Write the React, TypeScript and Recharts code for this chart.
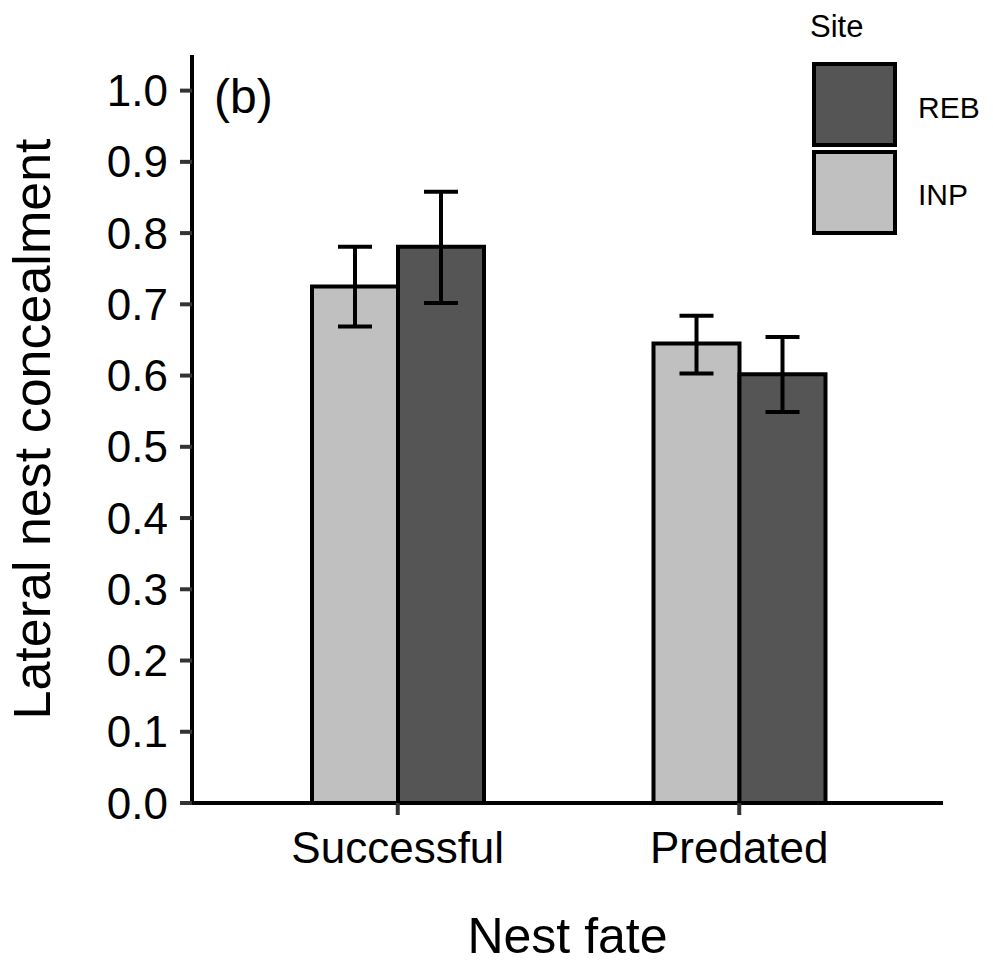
import React from "react";
import {
    BarChart,
    Bar,
    XAxis,
    YAxis,
    ErrorBar,
    Legend,
} from "recharts";

const categories = ["Successful", "Predated"];

const inpMean = [0.725, 0.645];
const inpLow = [0.669, 0.603];
const inpHigh = [0.781, 0.684];

const rebMean = [0.781, 0.602];
const rebLow = [0.702, 0.549];
const rebHigh = [0.858, 0.654];

const yTicks = [0, 0.1, 0.2, 0.3, 0.4, 0.5, 0.6, 0.7, 0.8, 0.9, 1.0];

const FONT = "'Liberation Sans', Arial, Helvetica, sans-serif";
const INP_FILL = "#c0c0c0";
const REB_FILL = "#555555";

const data = categories.map((fate, i) => ({
    fate,
    INP: inpMean[i],
    REB: rebMean[i],
    inpErr: [inpMean[i] - inpLow[i], inpHigh[i] - inpMean[i]],
    rebErr: [rebMean[i] - rebLow[i], rebHigh[i] - rebMean[i]],
}));

// legend keys, top to bottom like the original
const legendItems = [
    { label: "REB", fill: REB_FILL },
    { label: "INP", fill: INP_FILL },
];

function SiteLegend() {
    return (
        <svg width={213} height={250} style={{ display: "block" }}>
            <text x={30} y={37} fontSize={31} fontFamily={FONT} fill="#000">
                Site
            </text>
            {legendItems.map((item, i) => (
                <g key={item.label}>
                    <rect
                        x={34}
                        y={64 + i * 88}
                        width={81}
                        height={81}
                        fill={item.fill}
                        stroke="#000"
                        strokeWidth={4}
                    />
                    <text
                        x={138}
                        y={118 + i * 87}
                        fontSize={30}
                        fontFamily={FONT}
                        fill="#000"
                    >
                        {item.label}
                    </text>
                </g>
            ))}
        </svg>
    );
}

export default function App() {
    return (
        <div
            style={{
                position: "relative",
                width: 993,
                height: 962,
                margin: -8,
                background: "#fff",
                fontFamily: FONT,
            }}
        >
            <BarChart
                width={993}
                height={962}
                data={data}
                margin={{ top: 55, right: 50, bottom: 99, left: 0 }}
                barGap={0}
                barSize={86}
            >
                <XAxis
                    dataKey="fate"
                    height={60}
                    padding={{ left: 35, right: 33 }}
                    axisLine={{ stroke: "#000", strokeWidth: 4 }}
                    tickLine={{ stroke: "#333", strokeWidth: 4 }}
                    tickSize={12}
                    tickMargin={17}
                    tick={{ fill: "#000", fontSize: 44, fontFamily: FONT }}
                    label={{
                        value: "Nest fate",
                        position: "bottom",
                        offset: 54,
                        fill: "#000",
                        fontSize: 50,
                        fontFamily: FONT,
                    }}
                />
                <YAxis
                    width={192}
                    domain={[0, 1.05]}
                    ticks={yTicks}
                    interval={0}
                    tickFormatter={(v: number) => v.toFixed(1)}
                    axisLine={{ stroke: "#000", strokeWidth: 4 }}
                    tickLine={{ stroke: "#333", strokeWidth: 4 }}
                    tickSize={12}
                    tickMargin={12}
                    tick={{ fill: "#000", fontSize: 44, fontFamily: FONT }}
                    label={{
                        value: "Lateral nest concealment",
                        angle: -90,
                        position: "insideLeft",
                        offset: 32,
                        fill: "#000",
                        fontSize: 52,
                        fontFamily: FONT,
                        style: { textAnchor: "middle" },
                    }}
                />
                <Legend
                    layout="vertical"
                    align="center"
                    verticalAlign="middle"
                    wrapperStyle={{ top: 0, left: 780, width: 213, height: 250 }}
                    content={() => <SiteLegend />}
                />
                <Bar
                    dataKey="INP"
                    fill={INP_FILL}
                    stroke="#000"
                    strokeWidth={4}
                    isAnimationActive={false}
                >
                    <ErrorBar
                        dataKey="inpErr"
                        width={17}
                        stroke="#000"
                        strokeWidth={4}
                    />
                </Bar>
                <Bar
                    dataKey="REB"
                    fill={REB_FILL}
                    stroke="#000"
                    strokeWidth={4}
                    isAnimationActive={false}
                >
                    <ErrorBar
                        dataKey="rebErr"
                        width={17}
                        stroke="#000"
                        strokeWidth={4}
                    />
                </Bar>
            </BarChart>

            {/* panel tag */}
            <svg
                width={120}
                height={80}
                style={{ position: "absolute", left: 200, top: 50, pointerEvents: "none" }}
            >
                <text x={14} y={63} fontSize={48} fontFamily={FONT} fill="#000">
                    (b)
                </text>
            </svg>
        </div>
    );
}
